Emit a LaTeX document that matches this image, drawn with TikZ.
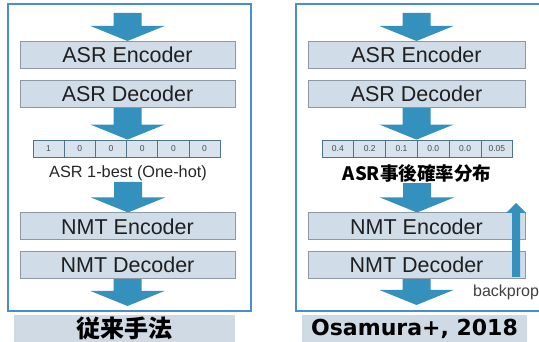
\documentclass[tikz,border=0pt]{standalone}
\usepackage{fontspec}
\setmainfont{Liberation Sans}
\newfontfamily\jpfont{Noto Sans CJK JP}
\newfontfamily\capfont{DejaVu Sans}
\usetikzlibrary{calc, positioning}
\usetikzlibrary{backgrounds}

\definecolor{arrowblue}{RGB}{52,145,189}
\definecolor{frameblue}{RGB}{72,142,212}
\definecolor{boxfill}{RGB}{208,220,232}
\definecolor{boxline}{RGB}{140,152,165}
\definecolor{cellline}{RGB}{80,115,140}
\definecolor{capfill}{RGB}{208,218,229}

% fat downward arrow: start, tip
\newcommand{\fatarrow}[2]{%
  \fill[arrowblue] let \p1=#1, \p2=#2 in
    (\x1-14pt,\y1) -- (\x1+14pt,\y1) -- (\x1+14pt,\y2+15pt)
    -- (\x1+37pt,\y2+15pt) -- (\x1,\y2) -- (\x1-37pt,\y2+15pt)
    -- (\x1-14pt,\y2+15pt) -- cycle;}

\begin{document}
\begin{tikzpicture}[x=1pt,y=-1pt,
  block/.style={draw=boxline, fill=boxfill, line width=1pt,
    minimum width=215pt, minimum height=27pt, inner sep=0pt,
    font=\fontsize{21.5}{23}\selectfont, text=black!88},
  cell/.style={draw=cellline, fill=boxfill!80!white, line width=0.8pt,
    minimum height=17pt, inner sep=0pt,
    font=\fontsize{8.5}{9}\selectfont, text=black!70},
  capbox/.style={fill=capfill, minimum height=27pt, inner sep=0pt}]
\useasboundingbox (0,0) rectangle (539,342);

% frames
\draw[frameblue, line width=1.5pt] (8,4) rectangle (251,311);
\draw[frameblue, line width=1.5pt] (296,4) rectangle (545,311);

% left: conventional pipeline
\node[block] (lasrenc) at (127.5,55) {ASR Encoder};
\node[block] (lasrdec) at (127.5,94) {ASR Decoder};
\foreach \v [count=\i] in {1,0,0,0,0,0}
  \node[cell, minimum width=31.2pt] (lc\i) at ({33+31.2*(\i-0.5)},148.5) {\v};
\node[font=\fontsize{16.3}{18}\selectfont, text=black!85, inner sep=1pt]
  (llabel) at (128,173) {ASR 1-best (One-hot)};
\node[block] (lnmtenc) at (127.5,226.5) {NMT Encoder};
\node[block] (lnmtdec) at (127.5,265) {NMT Decoder};
\coordinate (lin) at (127.5,13);
\coordinate (lout) at (127.5,306);

% right: Osamura+
\node[block, minimum width=217pt] (rasrenc) at (416.5,55) {ASR Encoder};
\node[block, minimum width=217pt] (rasrdec) at (416.5,94) {ASR Decoder};
\foreach \v [count=\i] in {0.4,0.2,0.1,0.0,0.0,0.05}
  \node[cell, minimum width=31.8pt] (rc\i) at ({322+31.8*(\i-0.5)},148.5) {\v};
\node[font=\jpfont\bfseries\fontsize{18.5}{20}\selectfont, inner sep=1pt]
  (rlabel) at (417,173) {ASR事後確率分布};
\node[block, minimum width=217pt] (rnmtenc) at (416.5,226.5) {NMT Encoder};
\node[block, minimum width=217pt] (rnmtdec) at (416.5,265) {NMT Decoder};
\coordinate (rin) at (416.5,13);
\coordinate (rout) at (416.5,305);

\begin{scope}[on background layer]
\fatarrow{(lin)}{(lasrenc.north)}
\fatarrow{(lasrdec.south)}{(lc3.north east)}
\fatarrow{(llabel.south)}{(lnmtenc.north)}
\fatarrow{(lnmtdec.south)}{(lout)}
\fatarrow{(rin)}{(rasrenc.north)}
\fatarrow{(rasrdec.south)}{(rc3.north east)}
\fatarrow{(rlabel.south)}{(rnmtenc.north)}
\fatarrow{(rnmtdec.south)}{(rout)}
\end{scope}

% backprop arrow
\coordinate (bpbot) at (516,277);
\coordinate (bptop) at (516,203);
\fill[arrowblue] ($(bpbot)+(-4,0)$) -- ($(bptop)+(-4,10)$) -- ($(bptop)+(-10,10)$)
  -- (bptop) -- ($(bptop)+(10,10)$) -- ($(bptop)+(4,10)$) -- ($(bpbot)+(4,0)$) -- cycle;
\node[font=\fontsize{16}{18}\selectfont, text=black!75, anchor=west, inner sep=0pt]
  (bplabel) at (473,292) {backprop};

% captions
\node[capbox, minimum width=221pt, font=\jpfont\bfseries\fontsize{24}{26}\selectfont]
  (lcap) at (124.5,328.5) {従来手法};
\node[capbox, minimum width=225pt, font=\capfont\bfseries\fontsize{22}{24}\selectfont]
  (rcap) at (414.5,328.5) {Osamura+, 2018};
\end{tikzpicture}
\end{document}
